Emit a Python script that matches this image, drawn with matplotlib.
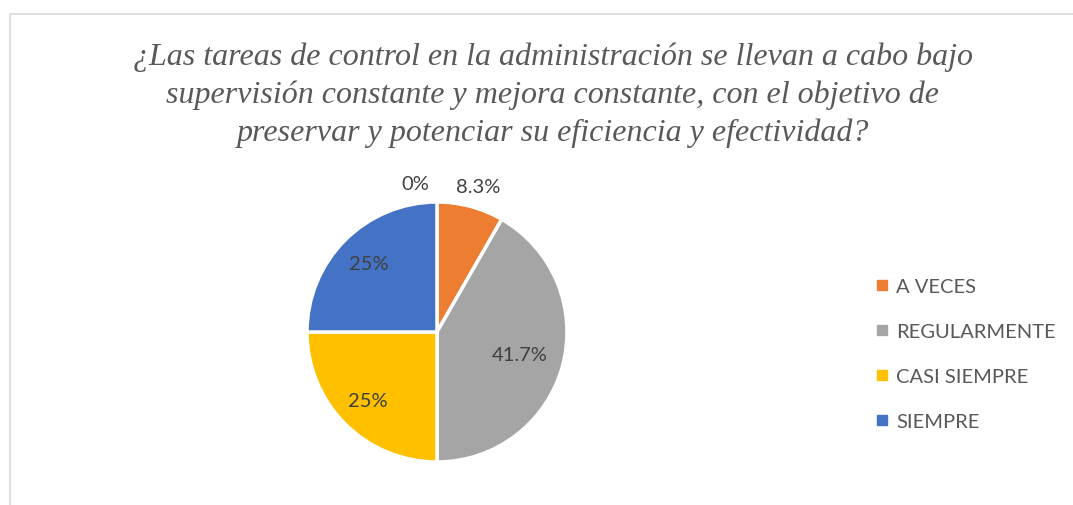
import numpy as np
import matplotlib.pyplot as plt
from matplotlib.patches import Rectangle
from matplotlib.lines import Line2D

# Datos
categorias = ['NUNCA', 'A VECES', 'REGULARMENTE', 'CASI SIEMPRE', 'SIEMPRE']
porcentajes = [0.0, 8.3, 41.7, 25.0, 25.0]
etiquetas = ['0%', '8.3%', '41.7%', '25%', '25%']
colores = ['#5B9BD5', '#ED7D31', '#A5A5A5', '#FFC000', '#4472C4']
titulo = ('¿Las tareas de control en la administración se llevan a cabo bajo\n'
          'supervisión constante y mejora constante, con el objetivo de\n'
          'preservar y potenciar su eficiencia y efectividad?')

W, H = 1073, 506
fig = plt.figure(figsize=(W / 100, H / 100), dpi=100)
fig.patch.set_facecolor('white')

# Borde del área del gráfico
fig.patches.append(Rectangle((9.5 / W, -0.05), 1.2, 1 - 14.5 / H + 0.05,
                             transform=fig.transFigure, fill=False,
                             edgecolor='#d9d9d9', linewidth=1.2))

fig.text(553 / W, 1 - 95 / H, titulo, ha='center', va='center',
         family='Liberation Serif', style='italic', fontsize=23,
         color='#595959', linespacing=1.38)

# Pastel
cx, cy, R = 437, 506 - 333, 130
lim = 1.3
ax = fig.add_axes([(cx - lim * R) / W, (cy - lim * R) / H, 2 * lim * R / W, 2 * lim * R / H])

wedges, _ = ax.pie(porcentajes, colors=colores, startangle=90, counterclock=False,
                   radius=1, wedgeprops=dict(edgecolor='white', linewidth=2.5))
ax.set_xlim(-lim, lim)
ax.set_ylim(-lim, lim)
ax.axis('off')

dist = [1.14, 1.16, 0.66, 0.75, 0.74]
for i, w in enumerate(wedges):
    ang = np.deg2rad((w.theta1 + w.theta2) / 2)
    x, y = dist[i] * np.cos(ang), dist[i] * np.sin(ang)
    if porcentajes[i] == 0:
        x -= 0.17
    else:
        x += 0.02 if i == 1 else 0
    ax.text(x, y, etiquetas[i], ha='center', va='center', fontsize=14.5,
            family='Lato', color='#404040')

# Leyenda (sin la categoría con 0 %)
handles = [Line2D([], [], marker='s', linestyle='none', markersize=7,
                  markerfacecolor=colores[i], markeredgecolor=colores[i])
           for i in range(1, len(categorias))]
fig.legend(handles, categorias[1:], loc='center left', bbox_to_anchor=(857 / W, 1 - 355 / H),
           frameon=False, prop=dict(family='Lato', size=14.5), labelcolor='#595959',
           handlelength=0.7, handletextpad=0.35, labelspacing=1.4)

fig.savefig('out.png', dpi=100, facecolor='white')
